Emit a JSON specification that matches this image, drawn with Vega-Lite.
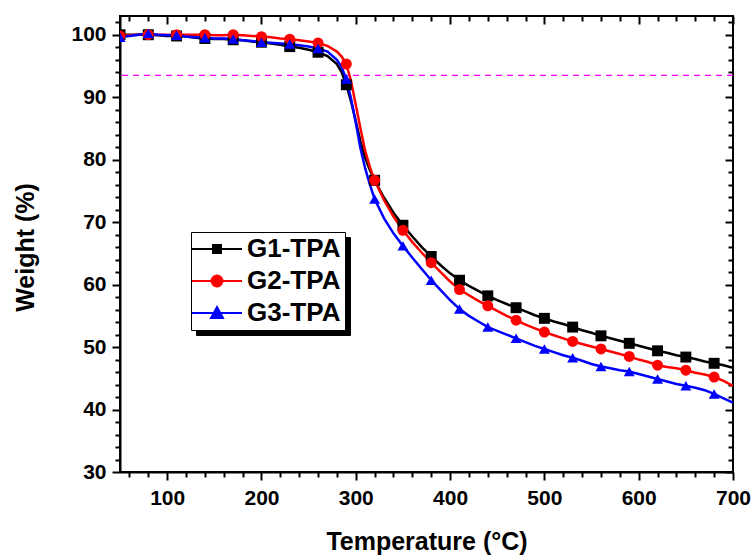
{
  "$schema": "https://vega.github.io/schema/vega-lite/v6.json",
  "width": 613,
  "height": 456,
  "autosize": {"type": "none"},
  "padding": {"left": 120, "top": 16, "right": 21, "bottom": 86},
  "background": "white",
  "config": {
    "font": "Liberation Sans",
    "view": {"stroke": "black", "strokeWidth": 2},
    "axis": {
      "grid": false,
      "domainColor": "black",
      "domainWidth": 2,
      "tickColor": "black",
      "tickWidth": 2,
      "labelFont": "Liberation Sans",
      "labelFontWeight": "bold",
      "labelFontSize": 21,
      "labelColor": "black",
      "titleFont": "Liberation Sans",
      "titleFontWeight": "bold",
      "titleFontSize": 25,
      "titleColor": "black"
    }
  },
  "datasets": {
    "tga": [
      {"T": 50, "G1-TPA": 100.0, "G2-TPA": 99.8, "G3-TPA": 99.6},
      {"T": 60, "G1-TPA": 100.0, "G2-TPA": 99.9, "G3-TPA": 99.8},
      {"T": 70, "G1-TPA": 100.0, "G2-TPA": 100.0, "G3-TPA": 100.0},
      {"T": 80, "G1-TPA": 100.0, "G2-TPA": 100.0, "G3-TPA": 100.2},
      {"T": 90, "G1-TPA": 99.9, "G2-TPA": 100.0, "G3-TPA": 100.0},
      {"T": 100, "G1-TPA": 99.8, "G2-TPA": 100.0, "G3-TPA": 99.9},
      {"T": 110, "G1-TPA": 99.8, "G2-TPA": 100.0, "G3-TPA": 99.9},
      {"T": 120, "G1-TPA": 99.7, "G2-TPA": 100.0, "G3-TPA": 99.7},
      {"T": 130, "G1-TPA": 99.5, "G2-TPA": 100.0, "G3-TPA": 99.6},
      {"T": 140, "G1-TPA": 99.4, "G2-TPA": 100.0, "G3-TPA": 99.5},
      {"T": 150, "G1-TPA": 99.3, "G2-TPA": 99.9, "G3-TPA": 99.4},
      {"T": 160, "G1-TPA": 99.3, "G2-TPA": 99.9, "G3-TPA": 99.4},
      {"T": 170, "G1-TPA": 99.2, "G2-TPA": 100.0, "G3-TPA": 99.3},
      {"T": 180, "G1-TPA": 99.1, "G2-TPA": 99.9, "G3-TPA": 99.1},
      {"T": 190, "G1-TPA": 98.9, "G2-TPA": 99.8, "G3-TPA": 99.0},
      {"T": 200, "G1-TPA": 98.8, "G2-TPA": 99.7, "G3-TPA": 98.8},
      {"T": 210, "G1-TPA": 98.6, "G2-TPA": 99.6, "G3-TPA": 98.7},
      {"T": 220, "G1-TPA": 98.4, "G2-TPA": 99.4, "G3-TPA": 98.6},
      {"T": 230, "G1-TPA": 98.1, "G2-TPA": 99.3, "G3-TPA": 98.5},
      {"T": 240, "G1-TPA": 97.9, "G2-TPA": 99.1, "G3-TPA": 98.3},
      {"T": 250, "G1-TPA": 97.6, "G2-TPA": 98.9, "G3-TPA": 98.1},
      {"T": 260, "G1-TPA": 97.2, "G2-TPA": 98.7, "G3-TPA": 97.8},
      {"T": 270, "G1-TPA": 96.6, "G2-TPA": 98.2, "G3-TPA": 97.3},
      {"T": 280, "G1-TPA": 95.3, "G2-TPA": 97.3, "G3-TPA": 96.0},
      {"T": 285, "G1-TPA": 94.0, "G2-TPA": 96.5, "G3-TPA": 94.8},
      {"T": 290, "G1-TPA": 92.0, "G2-TPA": 95.3, "G3-TPA": 92.9},
      {"T": 295, "G1-TPA": 89.3, "G2-TPA": 92.6, "G3-TPA": 89.8},
      {"T": 300, "G1-TPA": 86.2, "G2-TPA": 88.8, "G3-TPA": 85.9},
      {"T": 305, "G1-TPA": 82.9, "G2-TPA": 85.0, "G3-TPA": 81.8},
      {"T": 310, "G1-TPA": 80.3, "G2-TPA": 81.4, "G3-TPA": 78.6},
      {"T": 315, "G1-TPA": 78.3, "G2-TPA": 78.8, "G3-TPA": 76.0},
      {"T": 320, "G1-TPA": 76.7, "G2-TPA": 76.7, "G3-TPA": 73.7},
      {"T": 330, "G1-TPA": 73.9, "G2-TPA": 73.5, "G3-TPA": 70.6},
      {"T": 340, "G1-TPA": 71.5, "G2-TPA": 70.9, "G3-TPA": 68.2},
      {"T": 350, "G1-TPA": 69.5, "G2-TPA": 68.7, "G3-TPA": 66.2},
      {"T": 360, "G1-TPA": 67.7, "G2-TPA": 66.8, "G3-TPA": 64.3},
      {"T": 370, "G1-TPA": 66.0, "G2-TPA": 65.1, "G3-TPA": 62.5},
      {"T": 380, "G1-TPA": 64.5, "G2-TPA": 63.5, "G3-TPA": 60.7},
      {"T": 390, "G1-TPA": 63.1, "G2-TPA": 62.0, "G3-TPA": 59.1},
      {"T": 400, "G1-TPA": 61.8, "G2-TPA": 60.5, "G3-TPA": 57.5},
      {"T": 410, "G1-TPA": 60.7, "G2-TPA": 59.2, "G3-TPA": 56.1},
      {"T": 420, "G1-TPA": 59.8, "G2-TPA": 58.3, "G3-TPA": 55.0},
      {"T": 430, "G1-TPA": 59.0, "G2-TPA": 57.4, "G3-TPA": 54.1},
      {"T": 440, "G1-TPA": 58.2, "G2-TPA": 56.6, "G3-TPA": 53.2},
      {"T": 450, "G1-TPA": 57.5, "G2-TPA": 55.8, "G3-TPA": 52.6},
      {"T": 460, "G1-TPA": 56.9, "G2-TPA": 55.0, "G3-TPA": 52.0},
      {"T": 470, "G1-TPA": 56.3, "G2-TPA": 54.3, "G3-TPA": 51.4},
      {"T": 480, "G1-TPA": 55.7, "G2-TPA": 53.6, "G3-TPA": 50.8},
      {"T": 490, "G1-TPA": 55.1, "G2-TPA": 53.0, "G3-TPA": 50.2},
      {"T": 500, "G1-TPA": 54.6, "G2-TPA": 52.4, "G3-TPA": 49.7},
      {"T": 510, "G1-TPA": 54.1, "G2-TPA": 51.9, "G3-TPA": 49.2},
      {"T": 520, "G1-TPA": 53.7, "G2-TPA": 51.4, "G3-TPA": 48.7},
      {"T": 530, "G1-TPA": 53.2, "G2-TPA": 50.9, "G3-TPA": 48.3},
      {"T": 540, "G1-TPA": 52.7, "G2-TPA": 50.5, "G3-TPA": 47.8},
      {"T": 550, "G1-TPA": 52.3, "G2-TPA": 50.1, "G3-TPA": 47.3},
      {"T": 560, "G1-TPA": 51.8, "G2-TPA": 49.7, "G3-TPA": 46.9},
      {"T": 570, "G1-TPA": 51.4, "G2-TPA": 49.3, "G3-TPA": 46.6},
      {"T": 580, "G1-TPA": 51.0, "G2-TPA": 48.9, "G3-TPA": 46.3},
      {"T": 590, "G1-TPA": 50.6, "G2-TPA": 48.5, "G3-TPA": 46.1},
      {"T": 600, "G1-TPA": 50.2, "G2-TPA": 48.0, "G3-TPA": 45.7},
      {"T": 610, "G1-TPA": 49.8, "G2-TPA": 47.6, "G3-TPA": 45.3},
      {"T": 620, "G1-TPA": 49.4, "G2-TPA": 47.1, "G3-TPA": 44.9},
      {"T": 630, "G1-TPA": 49.1, "G2-TPA": 46.8, "G3-TPA": 44.5},
      {"T": 640, "G1-TPA": 48.7, "G2-TPA": 46.6, "G3-TPA": 44.1},
      {"T": 650, "G1-TPA": 48.4, "G2-TPA": 46.3, "G3-TPA": 43.8},
      {"T": 660, "G1-TPA": 48.1, "G2-TPA": 45.9, "G3-TPA": 43.5},
      {"T": 670, "G1-TPA": 47.7, "G2-TPA": 45.6, "G3-TPA": 43.1},
      {"T": 680, "G1-TPA": 47.4, "G2-TPA": 45.2, "G3-TPA": 42.5},
      {"T": 690, "G1-TPA": 47.1, "G2-TPA": 44.6, "G3-TPA": 41.8},
      {"T": 700, "G1-TPA": 46.7, "G2-TPA": 43.8, "G3-TPA": 41.1}
    ],
    "ref": [{"W": 93.5}]
  },
  "resolve": {"axis": {"x": "independent", "y": "independent"}, "legend": {"color": "independent", "shape": "independent", "strokeDash": "independent"}},
  "layer": [
    {
      "data": {"name": "tga"},
      "transform": [{"fold": ["G1-TPA", "G2-TPA", "G3-TPA"], "as": ["series", "W"]}],
      "mark": {"type": "line", "opacity": 0, "clip": true},
      "encoding": {
        "x": {"field": "T", "type": "quantitative", "scale": {"domain": [50, 700], "nice": false, "zero": false}, "axis": null},
        "y": {"field": "W", "type": "quantitative", "scale": {"domain": [30, 103], "nice": false, "zero": false}, "axis": null},
        "strokeDash": {
          "field": "series", "type": "nominal",
          "scale": {"domain": ["G1-TPA", "G2-TPA", "G3-TPA"], "range": [[1, 0], [1, 0], [1, 0]]},
          "legend": {
            "title": null,
            "orient": "none",
            "legendX": 76,
            "legendY": 221,
            "padding": 4,
            "strokeColor": "black",
            "fillColor": "black",
            "symbolSize": 100,
            "symbolOffset": 9,
            "symbolOpacity": 0,
            "labelOffset": 111,
            "labelExpr": "'\u2002\u2002\u2002\u2002\u2002\u2002\u2002'",
            "labelFont": "Liberation Sans",
            "labelFontWeight": "bold",
            "labelFontSize": 26,
            "labelColor": "black",
            "rowPadding": 6
          }
        }
      }
    },
    {
      "data": {"name": "ref"},
      "mark": {"type": "rule", "color": "#ff00ff", "strokeWidth": 1.4, "strokeDash": [6, 5]},
      "encoding": {
        "y": {"field": "W", "type": "quantitative", "axis": null}
      }
    },
    {
      "data": {"name": "tga"},
      "transform": [{"fold": ["G1-TPA", "G2-TPA", "G3-TPA"], "as": ["series", "W"]}],
      "mark": {"type": "line", "strokeWidth": 2.5, "clip": true},
      "encoding": {
        "x": {
          "field": "T", "type": "quantitative",
          "axis": {
            "orient": "bottom",
            "title": "Temperature (°C)",
            "values": [60,80,100,120,140,160,180,200,220,240,260,280,300,320,340,360,380,400,420,440,460,480,500,520,540,560,580,600,620,640,660,680,700],
            "labelExpr": "datum.value % 100 === 0 ? datum.label : ''",
            "tickSize": {"condition": {"test": "datum.value % 100 === 0", "value": 8}, "value": 5},
            "labelPadding": 7,
            "labelFlush": false,
            "labelOverlap": false,
            "titleY": 77,
            "titleBaseline": "alphabetic"
          }
        },
        "y": {
          "field": "W", "type": "quantitative",
          "axis": {
            "orient": "left",
            "title": "Weight (%)",
            "values": [30,32,34,36,38,40,42,44,46,48,50,52,54,56,58,60,62,64,66,68,70,72,74,76,78,80,82,84,86,88,90,92,94,96,98,100,102],
            "labelExpr": "datum.value % 10 === 0 ? datum.label : ''",
            "tickSize": {"condition": {"test": "datum.value % 10 === 0", "value": 8}, "value": 5},
            "labelPadding": 6,
            "labelFlush": false,
            "labelOverlap": false,
            "titleX": -87,
            "titleY": 231,
            "titleBaseline": "alphabetic"
          }
        },
        "color": {
          "field": "series", "type": "nominal",
          "scale": {"domain": ["G1-TPA", "G2-TPA", "G3-TPA"], "range": ["#000000", "#ff0000", "#0000ff"]},
          "legend": {
            "title": null,
            "orient": "none",
            "legendX": 71,
            "legendY": 216,
            "padding": 4,
            "strokeColor": "black",
            "fillColor": "white",
            "symbolSize": 100,
            "symbolOffset": 9,
            "labelOffset": 17,
            "labelFont": "Liberation Sans",
            "labelFontWeight": "bold",
            "labelFontSize": 26,
            "labelColor": "black",
            "rowPadding": 6,
            "encode": {
              "symbols": {
                "update": {
                  "shape": {"signal": "datum.value === 'G1-TPA' ? 'M-5,0H5M-0.8,-0.8H0.8V0.8H-0.8Z' : datum.value === 'G2-TPA' ? 'M-5,0H5M-1.1,0A1.1,1.1,0,1,0,1.1,0A1.1,1.1,0,1,0,-1.1,0Z' : 'M-5,0H5M0,-1.2L1.2,1L-1.2,1Z'"},
                  "stroke": {"signal": "datum.value === 'G1-TPA' ? '#000000' : datum.value === 'G2-TPA' ? '#ff0000' : '#0000ff'"},
                  "fill": {"signal": "datum.value === 'G1-TPA' ? '#000000' : datum.value === 'G2-TPA' ? '#ff0000' : '#0000ff'"},
                  "strokeWidth": {"value": 2},
                  "opacity": {"value": 1}
                }
              }
            }
          }
        }
      }
    },
    {
      "data": {"name": "tga"},
      "transform": [
        {"fold": ["G1-TPA", "G2-TPA", "G3-TPA"], "as": ["series", "W"]},
        {"filter": "(datum.T - 50) % 30 === 0"}
      ],
      "mark": {"type": "point", "filled": true, "opacity": 1, "size": 120, "clip": true},
      "encoding": {
        "x": {
          "field": "T", "type": "quantitative",
          "axis": {
            "orient": "top",
            "title": null,
            "labels": false,
            "domain": false,
            "values": [60,80,100,120,140,160,180,200,220,240,260,280,300,320,340,360,380,400,420,440,460,480,500,520,540,560,580,600,620,640,660,680,700],
            "tickSize": {"condition": {"test": "datum.value % 100 === 0", "value": -8}, "value": -5}
          }
        },
        "y": {
          "field": "W", "type": "quantitative",
          "axis": {
            "orient": "right",
            "title": null,
            "labels": false,
            "domain": false,
            "values": [30,32,34,36,38,40,42,44,46,48,50,52,54,56,58,60,62,64,66,68,70,72,74,76,78,80,82,84,86,88,90,92,94,96,98,100,102],
            "tickSize": {"condition": {"test": "datum.value % 10 === 0", "value": -8}, "value": -5}
          }
        },
        "shape": {
          "field": "series", "type": "nominal",
          "scale": {"domain": ["G1-TPA", "G2-TPA", "G3-TPA"], "range": ["square", "circle", "triangle-up"]},
          "legend": null
        },
        "color": {
          "field": "series", "type": "nominal",
          "scale": {"domain": ["G1-TPA", "G2-TPA", "G3-TPA"], "range": ["#000000", "#ff0000", "#0000ff"]},
          "legend": null
        }
      }
    }
  ]
}
